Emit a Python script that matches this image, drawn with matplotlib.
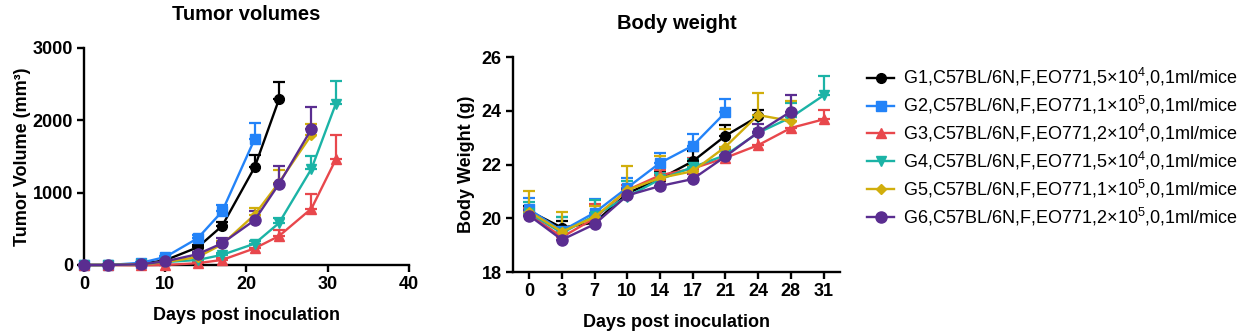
import numpy as np
import matplotlib
matplotlib.use('Agg')
import matplotlib.pyplot as plt

plt.rcParams['font.family'] = ['Liberation Sans', 'DejaVu Sans']
plt.rcParams['mathtext.fontset'] = 'custom'
plt.rcParams['mathtext.rm'] = 'Liberation Sans'
plt.rcParams['mathtext.default'] = 'regular'

days = [0, 3, 7, 10, 14, 17, 21, 24, 28, 31]

groups = [
    'G1,C57BL/6N,F,EO771,5×10$^{4}$,0,1ml/mice',
    'G2,C57BL/6N,F,EO771,1×10$^{5}$,0,1ml/mice',
    'G3,C57BL/6N,F,EO771,2×10$^{4}$,0,1ml/mice',
    'G4,C57BL/6N,F,EO771,5×10$^{4}$,0,1ml/mice',
    'G5,C57BL/6N,F,EO771,1×10$^{5}$,0,1ml/mice',
    'G6,C57BL/6N,F,EO771,2×10$^{5}$,0,1ml/mice',
]
colors = ['#000000', '#2383F8', '#E8474C', '#1BB3A6', '#D1AE0C', '#5A2D90']
markers = ['o', 's', '^', 'v', 'D', 'o']
msizes = [7, 7, 7, 7, 5, 8]

# tumor volume (mm3), mean and SEM; None = group finished
tv_mean = [
    [0, 0, 15, 65, 245, 540, 1350, 2290, None, None],
    [0, 0, 30, 110, 370, 740, 1740, None, None, None],
    [0, 0, -5, 0, 25, 70, 230, 400, 780, 1460],
    [0, 0, 10, 40, 70, 140, 295, 580, 1330, 2230],
    [0, 0, 10, 40, 110, 285, 695, 1140, 1800, None],
    [0, 0, 10, 50, 150, 300, 620, 1120, 1880, None],
]
tv_sem = [
    [0, 0, 5, 15, 35, 60, 170, 245, None, None],
    [0, 0, 8, 20, 40, 90, 220, None, None, None],
    [0, 0, 5, 5, 10, 20, 60, 85, 200, 340],
    [0, 0, 5, 10, 15, 25, 40, 70, 170, 310],
    [0, 0, 5, 10, 25, 40, 90, 175, 150, None],
    [0, 0, 5, 15, 30, 80, 120, 250, 310, None],
]

# body weight (g), mean and SEM
bw_mean = [
    [20.27, 19.65, 19.84, 20.93, 21.47, 22.12, 23.07, 23.79, None, None],
    [20.33, 19.53, 20.21, 21.14, 22.06, 22.70, 23.94, None, None, None],
    [20.15, 19.30, 20.00, 21.05, 21.60, 21.85, 22.25, 22.72, 23.36, 23.68],
    [20.20, 19.45, 20.10, 20.80, 21.45, 21.90, 22.35, 23.18, 23.75, 24.57],
    [20.25, 19.50, 20.05, 21.05, 21.50, 21.75, 22.66, 23.84, 23.62, None],
    [20.10, 19.20, 19.78, 20.85, 21.20, 21.46, 22.30, 23.20, 23.97, None],
]
bw_sem = [
    [0.19, 0.25, 0.25, 0.21, 0.28, 0.38, 0.41, 0.25, None, None],
    [0.44, 0.50, 0.49, 0.36, 0.37, 0.44, 0.49, None, None, None],
    [0.25, 0.30, 0.54, 0.20, 0.20, 0.40, 0.30, 0.45, 0.40, 0.35],
    [0.40, 0.60, 0.57, 0.58, 0.25, 0.30, 0.25, 0.60, 0.55, 0.73],
    [0.75, 0.72, 0.40, 0.88, 0.80, 0.25, 0.65, 0.81, 0.75, None],
    [0.20, 0.25, 0.20, 0.25, 0.20, 0.20, 0.20, 0.30, 0.62, None],
]

fig = plt.figure(figsize=(12.48, 3.34), dpi=100)
ax1 = fig.add_axes([0.0673, 0.2066, 0.2604, 0.6497])
ax2 = fig.add_axes([0.411, 0.1856, 0.262, 0.6437])


def draw_group(ax, x, mean, sem, color, marker, ms, label):
    pts = [(xi, m, s) for xi, m, s in zip(x, mean, sem) if m is not None]
    xs = np.array([p[0] for p in pts], dtype=float)
    ys = np.array([p[1] for p in pts], dtype=float)
    es = np.array([p[2] for p in pts], dtype=float)
    # upper error bars only
    ax.errorbar(xs, ys, yerr=[np.zeros_like(es), es], fmt='none', ecolor=color,
                elinewidth=1.6, capsize=4.5, capthick=1.6, clip_on=False, zorder=2)
    line, = ax.plot(xs, ys, color=color, lw=1.7, marker=marker, markersize=ms,
                    markeredgecolor=color, clip_on=False, zorder=3, label=label)
    return line


for i in range(6):
    draw_group(ax1, days, tv_mean[i], tv_sem[i], colors[i], markers[i], msizes[i], groups[i])

handles = []
x_cat = np.arange(len(days))
for i in range(6):
    handles.append(draw_group(ax2, x_cat, bw_mean[i], bw_sem[i], colors[i],
                              markers[i], msizes[i], groups[i]))

bold = dict(fontweight='bold')

ax1.set_xlim(0, 40)
ax1.set_ylim(0, 3000)
ax1.set_xticks([0, 10, 20, 30, 40])
ax1.set_yticks([0, 1000, 2000, 3000])
ax1.set_title('Tumor volumes', fontsize=14.5, pad=20, **bold)
ax1.set_xlabel('Days post inoculation', fontsize=13, labelpad=10, **bold)
ax1.set_ylabel('Tumor Volume (mm³)', fontsize=13, labelpad=1, **bold)

ax2.set_xlim(-0.5, 9.5)
ax2.set_ylim(18, 26)
ax2.set_xticks(x_cat)
ax2.set_xticklabels([str(d) for d in days])
ax2.set_yticks([18, 20, 22, 24, 26])
ax2.set_title('Body weight', fontsize=14.5, pad=20, **bold)
ax2.set_xlabel('Days post inoculation', fontsize=13, labelpad=10, **bold)
ax2.set_ylabel('Body Weight (g)', fontsize=13, labelpad=5, **bold)

for ax in (ax1, ax2):
    for side in ('top', 'right'):
        ax.spines[side].set_visible(False)
    for side in ('left', 'bottom'):
        ax.spines[side].set_linewidth(1.7)
    ax.tick_params(width=1.7, length=5, labelsize=13, pad=3)
    for lbl in ax.get_xticklabels() + ax.get_yticklabels():
        lbl.set_fontweight('bold')

fig.legend(handles=handles, loc='upper left', bbox_to_anchor=(0.682, 0.85),
           frameon=False, fontsize=13, handlelength=1.5, handletextpad=0.5,
           labelspacing=0.32)

fig.savefig('out.png', dpi=100)
